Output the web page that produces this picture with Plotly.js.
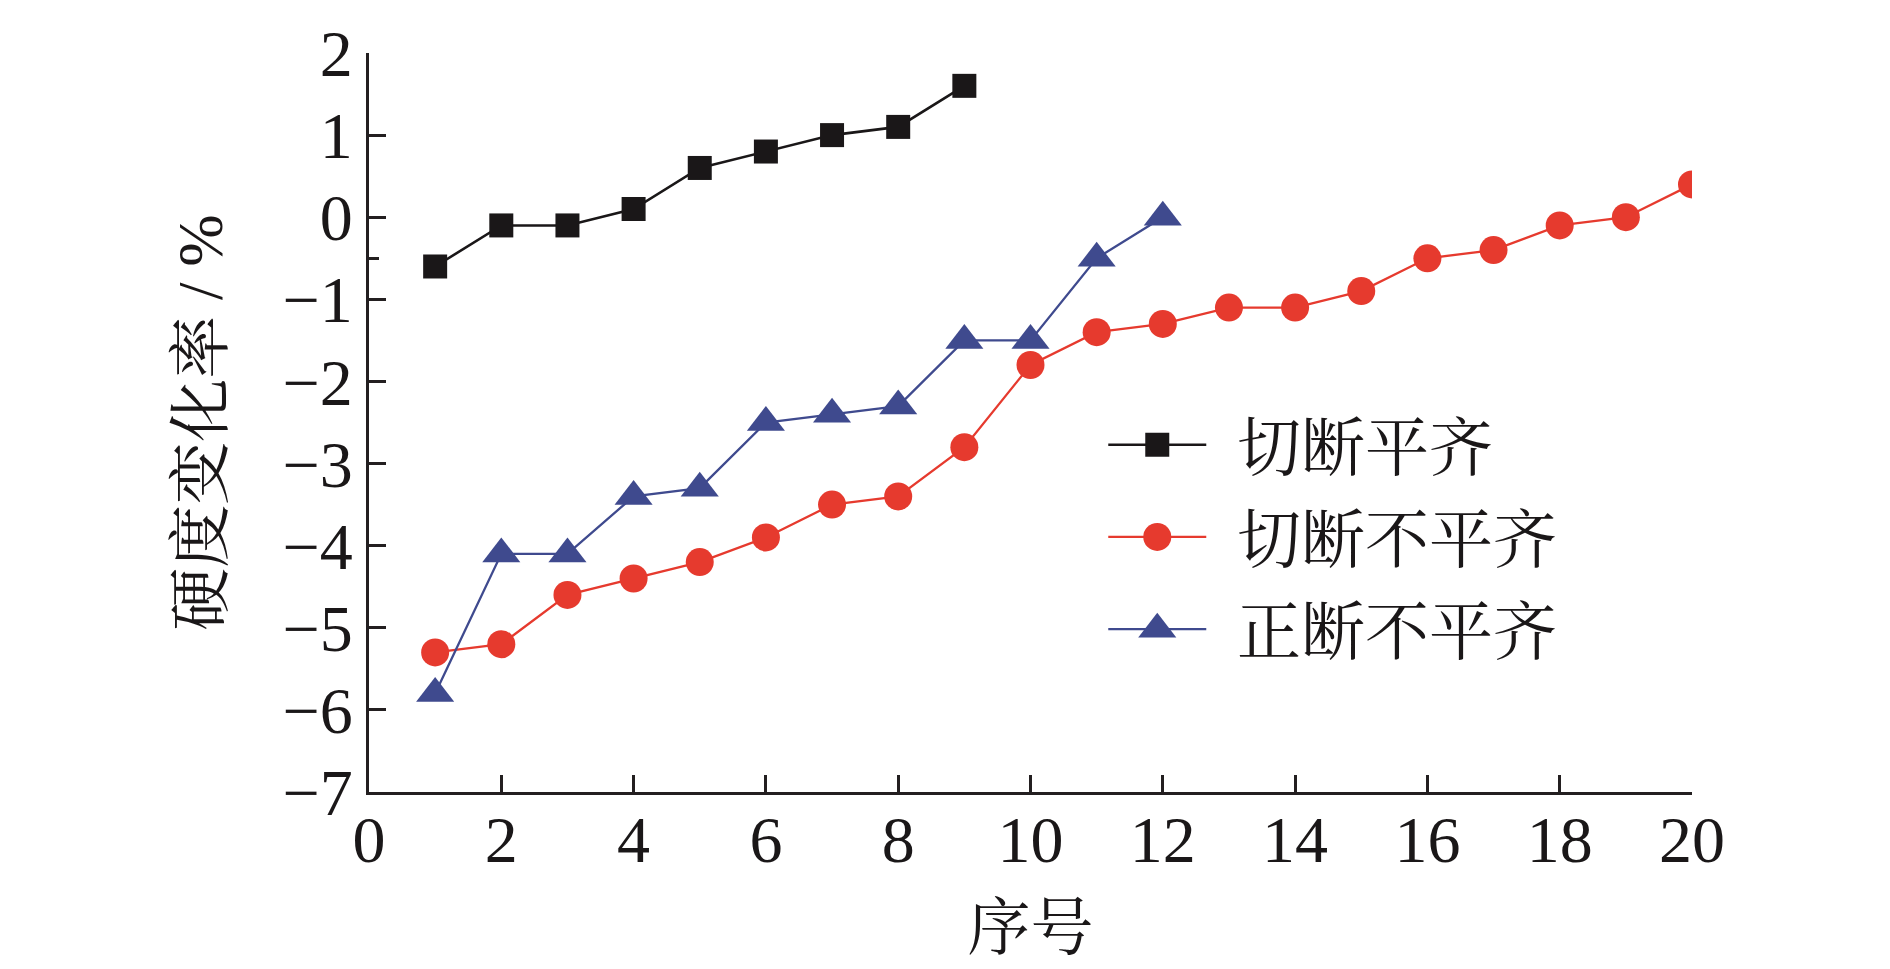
<!DOCTYPE html>
<html>
<head>
<meta charset="utf-8">
<script src="https://cdn.plot.ly/plotly-3.0.1.min.js"></script>
<style>
html,body{margin:0;padding:0;background:#fff;}
#chart{width:1890px;height:969px;}
</style>
</head>
<body>
<div id="chart"></div>
<script>
// Data
const seriesNames = ["切断平齐", "切断不平齐", "正断不平齐"];
const xFlat = [1, 2, 3, 4, 5, 6, 7, 8, 9];
const yFlat = [-0.6, -0.1, -0.1, 0.1, 0.6, 0.8, 1.0, 1.1, 1.6];
const xCutUneven = [1, 2, 3, 4, 5, 6, 7, 8, 9, 10, 11, 12, 13, 14, 15, 16, 17, 18, 19, 20];
const yCutUneven = [-5.3, -5.2, -4.6, -4.4, -4.2, -3.9, -3.5, -3.4, -2.8, -1.8, -1.4, -1.3, -1.1, -1.1, -0.9, -0.5, -0.4, -0.1, 0.0, 0.4];
const xNormUneven = [1, 2, 3, 4, 5, 6, 7, 8, 9, 10, 11, 12];
const yNormUneven = [-5.8, -4.1, -4.1, -3.4, -3.3, -2.5, -2.4, -2.3, -1.5, -1.5, -0.5, 0.0];
const xTickVals = [0, 2, 4, 6, 8, 10, 12, 14, 16, 18, 20];
const yTickVals = [2, 1, 0, -1, -2, -3, -4, -5, -6, -7];
const xTitle = "序号";
const yTitle = "硬度变化率 / %";

const FONT = "'Liberation Serif', 'Noto Serif CJK SC', 'Noto Sans CJK SC', serif";
const AX = "#231f20";
const pad = "\u2009\u2009";
const markerSizes = [24, 28, 33];

const traces = [
  {x: xFlat, y: yFlat, name: pad + seriesNames[0], legendgroup: "a", mode: "lines+markers",
   line: {color: "#1a1718", width: 2.6},
   marker: {symbol: "square", size: markerSizes[0], color: "#1a1718"}},
  {x: xCutUneven, y: yCutUneven, name: pad + seriesNames[1], legendgroup: "b", mode: "lines+markers",
   line: {color: "#e63a2e", width: 2.3},
   marker: {symbol: "circle", size: markerSizes[1], color: "#e63a2e"}},
  {x: xNormUneven, y: yNormUneven, name: pad + seriesNames[2], legendgroup: "c", mode: "lines+markers",
   line: {color: "#3f4a8e", width: 2.3},
   marker: {symbol: "triangle-up", size: markerSizes[2], color: "#3f4a8e"}}
];

const layout = {
  width: 1890, height: 969,
  paper_bgcolor: "#fff", plot_bgcolor: "#fff",
  margin: {l: 369, r: 198, t: 53, b: 177},
  font: {family: FONT, color: "#1a1718", size: 64},
  showlegend: true,
  legend: {x: 0.555, y: 0.535, xanchor: "left", yanchor: "top",
    bgcolor: "rgba(0,0,0,0)", borderwidth: 0, itemwidth: 98,
    tracegroupgap: 6, font: {family: FONT, size: 64, color: "#1a1718"}},
  xaxis: {
    range: [0, 20], tickvals: xTickVals, ticktext: xTickVals.map(String),
    showline: true, linecolor: AX, linewidth: 3, mirror: false,
    ticks: "inside", ticklen: 17, tickwidth: 3, tickcolor: AX,
    ticklabelstandoff: -12,
    showgrid: false, zeroline: false,
    tickfont: {family: FONT, size: 66, color: "#1a1718"},
    title: {text: xTitle, font: {family: FONT, size: 63, color: "#1a1718"}, standoff: 30}
  },
  yaxis: {
    range: [-7, 2], tickvals: yTickVals,
    showline: true, linecolor: AX, linewidth: 3, mirror: false,
    ticks: "inside", ticklen: 17, tickwidth: 3, tickcolor: AX,
    minor: {tickvals: [-0.5], ticks: "inside", ticklen: 10, tickwidth: 3, tickcolor: AX},
    showgrid: false, zeroline: false,
    tickfont: {family: FONT, size: 66, color: "#1a1718"},
    title: {text: yTitle, font: {family: FONT, size: 63, color: "#1a1718"}, standoff: 40}
  }
};

Plotly.newPlot("chart", traces, layout, {displayModeBar: false, staticPlot: true}).then(function (gd) {
  // Plotly caps legend symbol size at 16px; enlarge to match the plotted markers
  const groups = gd.querySelectorAll(".legend .traces");
  groups.forEach(function (g, i) {
    const s = markerSizes[i] / 16;
    g.querySelectorAll(".legendpoints path.scatterpts").forEach(function (p) {
      const t = p.getAttribute("transform") || "";
      p.setAttribute("transform", t + " scale(" + s + ")");
    });
  });
});
</script>
</body>
</html>
